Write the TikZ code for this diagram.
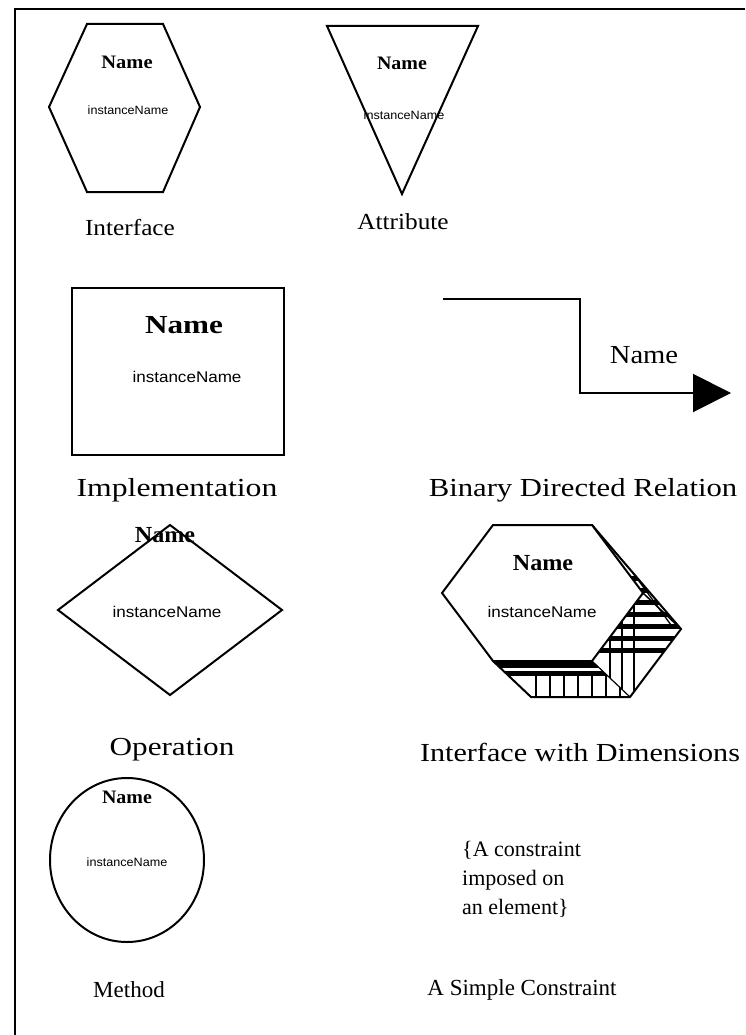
\documentclass[tikz,border=0pt]{standalone}
\usepackage{fontspec}
\usepackage{graphicx}
\setmainfont{Liberation Serif}
\newfontfamily\smallsans{Liberation Sans}
\usetikzlibrary{arrows.meta,calc}
\newcommand{\hs}[2]{\scalebox{#1}[1]{#2}}
\begin{document}
\begin{tikzpicture}[x=1pt,y=-1pt,
  shapeline/.style={line width=2pt, line join=miter},
  nm/.style={font=\bfseries\fontsize{19}{20}\selectfont, inner sep=0pt},
  nmbig/.style={font=\bfseries\fontsize{23}{24}\selectfont, inner sep=0pt},
  inm/.style={font=\smallsans\fontsize{12}{13}\selectfont, inner sep=0pt},
  inmbig/.style={font=\smallsans\fontsize{15.5}{16}\selectfont, inner sep=0pt},
  lbl/.style={font=\fontsize{23}{26}\selectfont, inner sep=0pt},
  lblbig/.style={font=\fontsize{26}{28}\selectfont, inner sep=0pt}]
\useasboundingbox (0,0) rectangle (745,1035);
\fill[white] (0,0) rectangle (745,1035);
\draw[line width=2.5pt] (15,1035) -- (15,9) -- (745,9);

% Interface
\draw[shapeline] (87,24) -- (163,24) -- (200,107) -- (163,192) -- (87,192) -- (49,107) -- cycle;
\node[nm] (ifn) at (127,62) {\hs{1.08}{Name}};
\node[inm] (ifi) at (128,110) {\hs{1.05}{instanceName}};
\node[lbl] (ifl) at (130,228) {\hs{1.1}{Interface}};

% Attribute
\draw[shapeline] (327,26) -- (478,26) -- (402,194) -- cycle;
\node[nm] (atn) at (402,63) {\hs{1.05}{Name}};
\node[inm] (ati) at (404,115) {\hs{1.05}{instanceName}};
\node[lbl] (atl) at (403,222) {\hs{1.1}{Attribute}};

% Implementation
\draw[shapeline] (72,288) rectangle (284,455);
\node[nmbig] (imn) at (184,325) {\hs{1.2}{\fontsize{26}{27}\selectfont Name}};
\node[inmbig] (imi) at (187,377) {\hs{1.1}{instanceName}};
\node[lblbig] (iml) at (177,490) {\hs{1.22}{Implementation}};

% Binary Directed Relation
\coordinate (r1) at (443,299);
\coordinate (r2) at (731,393);
\draw[shapeline, -{Triangle[length=38pt,width=38pt]}] (r1) -- (580,299) -- (580,393) -- (r2);
\node[font=\fontsize{26}{27}\selectfont, inner sep=0pt] (brn) at (644,355) {\hs{1.1}{Name}};
\node[lblbig] (brl) at (583,490) {\hs{1.18}{Binary Directed Relation}};

% Operation
\draw[shapeline] (170,525) -- (282,610) -- (170,695) -- (58,610) -- cycle;
\node[nmbig] (opn) at (165,535) {\hs{1.05}{Name}};
\node[inmbig] (opi) at (167,612) {\hs{1.1}{instanceName}};
\node[lblbig] (opl) at (172,750) {\hs{1.2}{Operation}};

% Interface with Dimensions
\coordinate (A) at (493,525); \coordinate (B) at (592,525);
\coordinate (C) at (643,593); \coordinate (D) at (592,661);
\coordinate (E) at (493,661); \coordinate (F) at (442,593);
\coordinate (C2) at (681,629);
\coordinate (D2) at (630,697); \coordinate (E2) at (531,697);
% bottom face
\begin{scope}
\clip (E) -- (D) -- (D2) -- (E2) -- cycle;
\fill[black] (480,662) rectangle (700,668);
\fill[black] (480,671) rectangle (700,676);
\foreach \x in {536,550,564,578,592,606,620} \draw[line width=1.8pt] (\x,676) -- (\x,700);
\end{scope}
% right faces
\begin{scope}
\clip (B) -- (C) -- (D) -- (D2) -- (C2) -- cycle;
\foreach \y in {576,588,600,612,624,636,648} \fill[black] (580,\y) rectangle (700,\y+5);
\draw[line width=1.5pt] (C) -- (C2);
\draw[line width=1.3pt] ($(B)+(6,0)$) -- ($(C2)+(-10,-4)$);
\draw[line width=1.3pt] ($(B)+(3,-3)$) -- ($(C2)+(-4,-10)$);
\foreach \x in {610,622,634} \draw[line width=1.5pt] (\x,600) -- (\x,700);
\end{scope}
\draw[shapeline] (B) -- (C2) -- (D2) -- (E2) -- (E);
\draw[line width=1.2pt] (D) -- (D2);
\draw[shapeline, fill=white] (A) -- (B) -- (C) -- (D) -- (E) -- (F) -- cycle;
\node[nmbig] (dmn) at (543,563) {\hs{1.05}{Name}};
\node[inmbig] (dmi) at (542,612) {\hs{1.1}{instanceName}};
\node[lblbig] (dml) at (580,752) {\hs{1.16}{Interface with Dimensions}};

% Method
\draw[shapeline] (127,860) ellipse [x radius=77, y radius=82];
\node[nm] (mtn) at (127,797) {\hs{1.05}{Name}};
\node[inm] (mti) at (127,862) {\hs{1.05}{instanceName}};
\node[lbl] (mtl) at (129,990) {Method};

% Constraint
\node[lbl, align=left, font=\fontsize{22}{29}\selectfont, anchor=north west] (cst) at (462,841) {\{A constraint\\imposed on\\an element\}};
\node[lbl] (csl) at (522,990) {A Simple Constraint};
\end{tikzpicture}
\end{document}
